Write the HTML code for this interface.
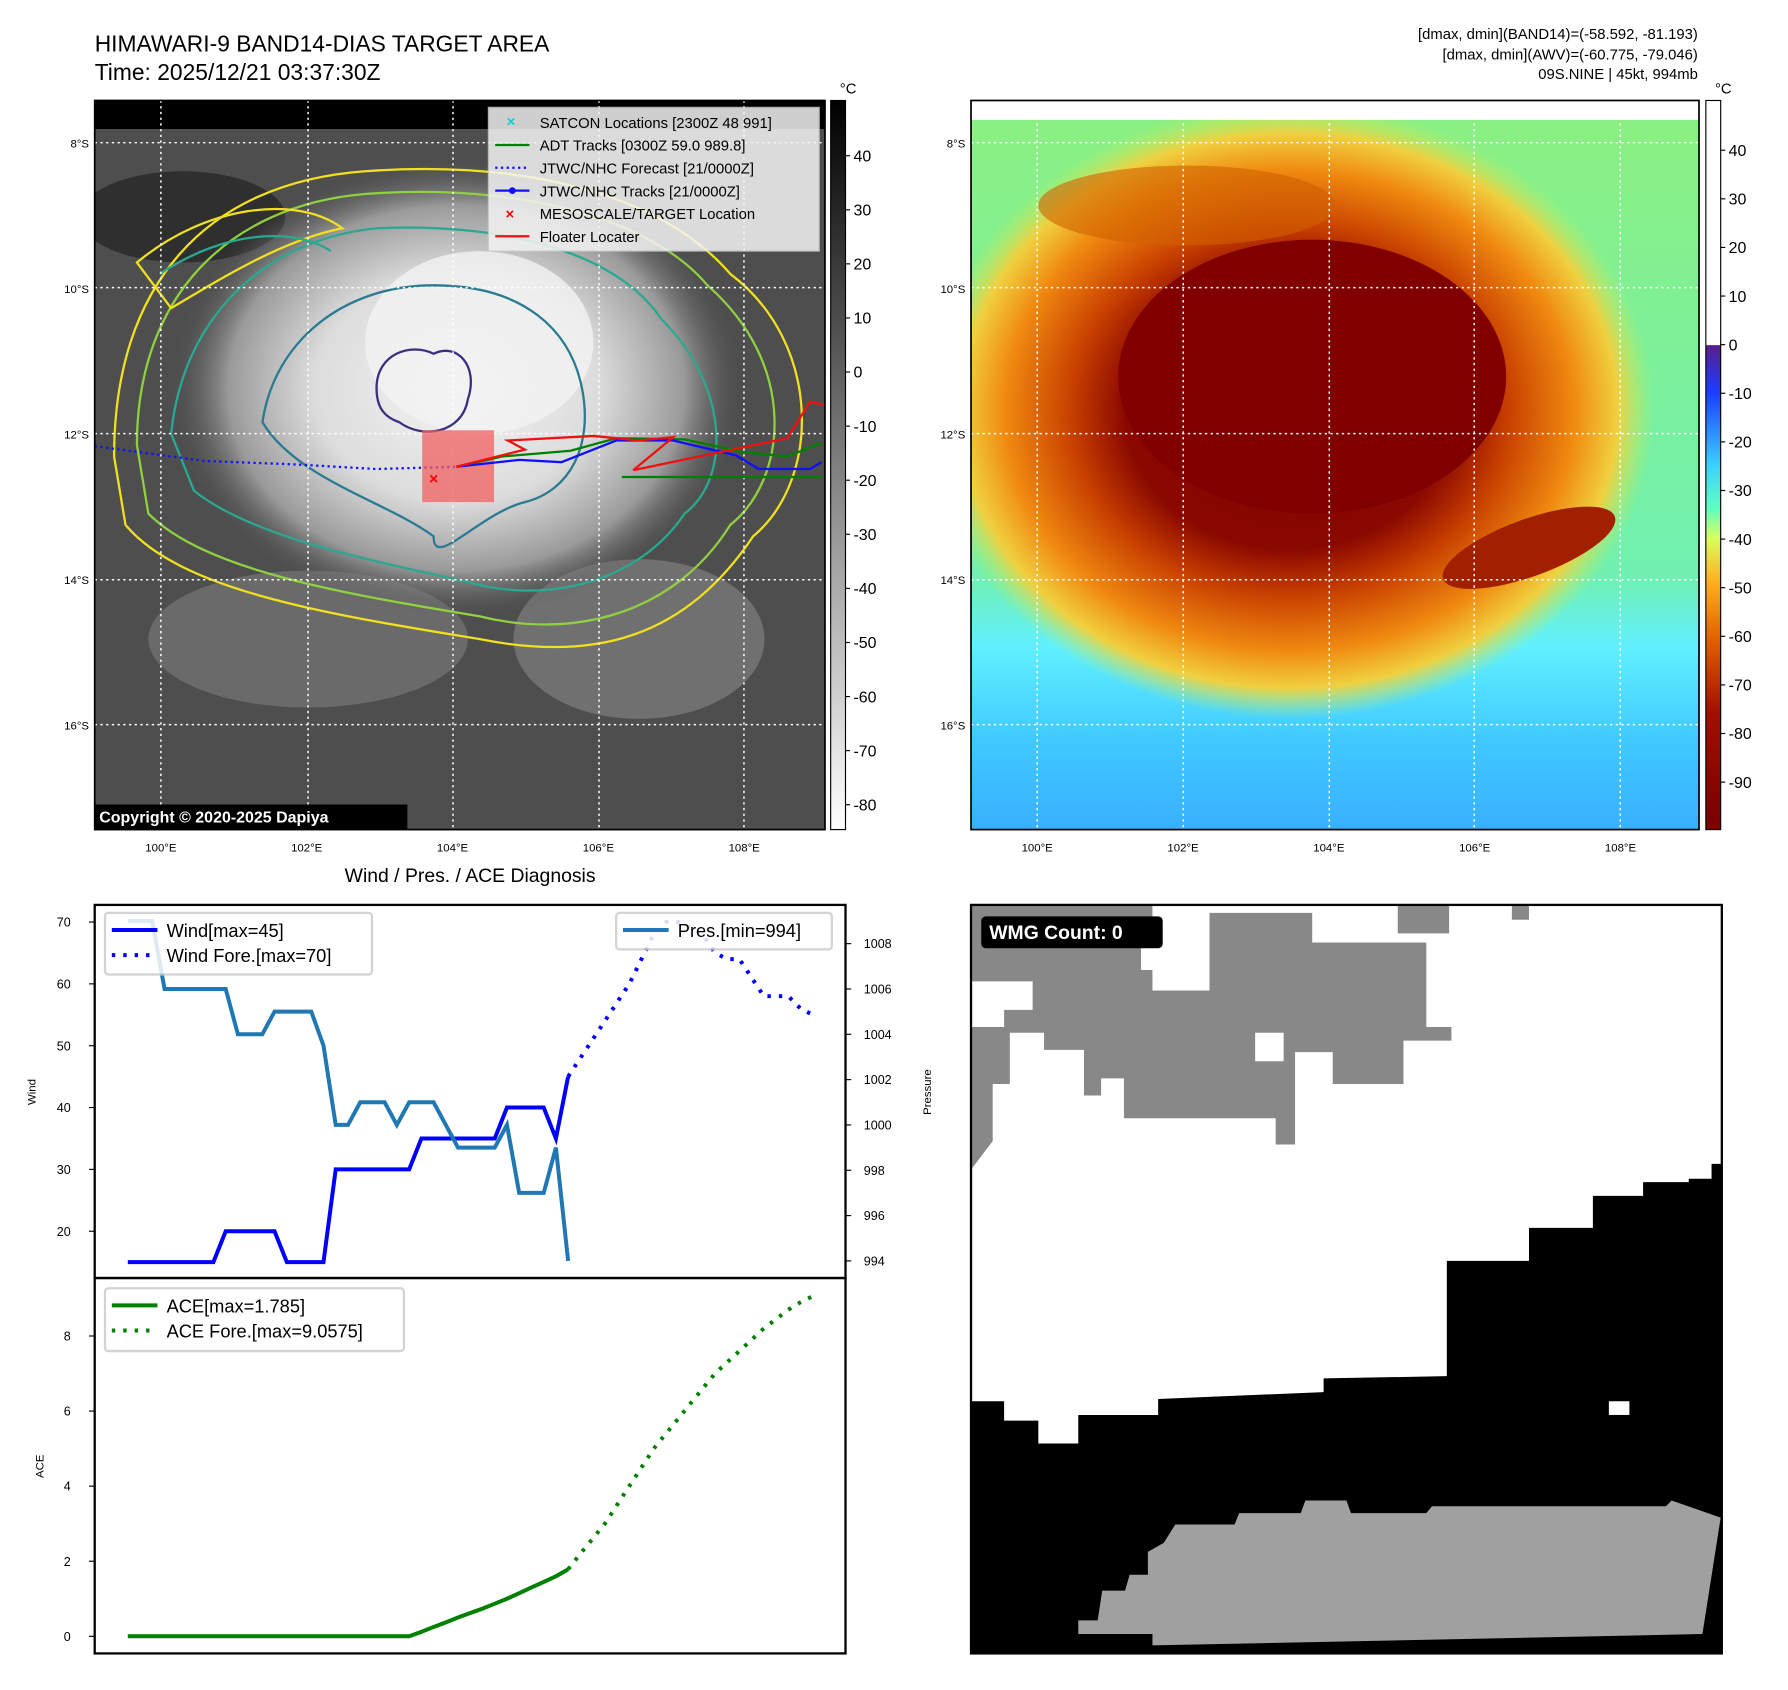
<!DOCTYPE html>
<html><head><meta charset="utf-8"><style>
html,body{margin:0;padding:0;background:#fff}
svg{display:block}
text{font-family:"Liberation Sans","DejaVu Sans",sans-serif}
</style></head><body>
<svg id="root" width="1788" height="1690" viewBox="0 0 1567 1481" xmlns="http://www.w3.org/2000/svg">
<defs>
<clipPath id="clipL"><rect x="83" y="88" width="640" height="639"/></clipPath>
<clipPath id="clipR"><rect x="851" y="88" width="638" height="639"/></clipPath>
<linearGradient id="gcb" x1="0" y1="0" x2="0" y2="1"><stop offset="0" stop-color="#000"/><stop offset="1" stop-color="#fff"/></linearGradient>
<linearGradient id="ccb" x1="0" y1="0" x2="0" y2="1">
<stop offset="0" stop-color="#fff"/><stop offset="0.335" stop-color="#fff"/><stop offset="0.336" stop-color="#5a1e8c"/>
<stop offset="0.4" stop-color="#1a3cff"/><stop offset="0.5" stop-color="#3cd0ff"/><stop offset="0.56" stop-color="#60ffc0"/>
<stop offset="0.6" stop-color="#d8ff60"/><stop offset="0.66" stop-color="#ffb020"/><stop offset="0.74" stop-color="#e06000"/>
<stop offset="0.84" stop-color="#a01000"/><stop offset="1" stop-color="#780000"/></linearGradient>
<radialGradient id="cloud" cx="0.5" cy="0.5" r="0.5"><stop offset="0" stop-color="#f4f4f4"/><stop offset="0.5" stop-color="#dcdcdc"/><stop offset="0.8" stop-color="#9a9a9a"/><stop offset="1" stop-color="#555" stop-opacity="0"/></radialGradient>
<linearGradient id="rbg" x1="0" y1="0" x2="0" y2="1"><stop offset="0" stop-color="#8cf080"/><stop offset="0.65" stop-color="#70f0b0"/><stop offset="0.75" stop-color="#60f0ff"/><stop offset="0.88" stop-color="#40c8ff"/><stop offset="1" stop-color="#38b0ff"/></linearGradient>
<radialGradient id="storm" cx="0.5" cy="0.5" r="0.5"><stop offset="0" stop-color="#800000"/><stop offset="0.45" stop-color="#8a0800"/><stop offset="0.6" stop-color="#c84000"/><stop offset="0.78" stop-color="#f08a10"/><stop offset="0.9" stop-color="#f0d040"/><stop offset="1" stop-color="#c0f060" stop-opacity="0"/></radialGradient>
</defs>

<text x="83" y="45" font-size="20">HIMAWARI-9 BAND14-DIAS TARGET AREA</text>
<text x="83" y="70" font-size="20">Time: 2025/12/21 03:37:30Z</text>
<g font-size="13" text-anchor="end">
<text x="1488" y="34">[dmax, dmin](BAND14)=(-58.592, -81.193)</text>
<text x="1488" y="52">[dmax, dmin](AWV)=(-60.775, -79.046)</text>
<text x="1488" y="69">09S.NINE | 45kt, 994mb</text>
</g>

<!-- left map -->
<g>
<g clip-path="url(#clipL)">
<rect x="83" y="88" width="640" height="639" fill="#4e4e4e"/>
<rect x="83" y="88" width="640" height="25" fill="#000"/>
<ellipse cx="160" cy="190" rx="90" ry="40" fill="#2f2f2f"/>
<ellipse cx="270" cy="560" rx="140" ry="60" fill="#6a6a6a"/>
<ellipse cx="560" cy="560" rx="110" ry="70" fill="#707070"/>
<ellipse cx="400" cy="340" rx="250" ry="200" fill="url(#cloud)"/>
<ellipse cx="420" cy="300" rx="100" ry="80" fill="#f2f2f2" opacity="0.8"/>
<g fill="none" stroke-width="2">
<path d="M100,400 C100,250 180,160 320,150 C460,140 580,170 640,240 C720,300 720,420 660,470 C600,560 520,580 420,560 C300,540 160,520 110,460 Z" stroke="#f0e020"/>
<path d="M120,390 C120,260 200,180 320,170 C450,160 570,190 620,250 C700,320 690,420 640,460 C590,540 500,560 420,540 C300,520 180,500 130,450 Z" stroke="#90d040"/>
<path d="M150,380 C160,280 230,210 330,200 C440,195 540,220 580,280 C640,340 640,420 600,450 C560,510 480,530 410,510 C320,490 220,470 170,430 Z" stroke="#2aa890"/>
<path d="M230,370 C240,300 300,250 380,250 C460,250 500,290 510,340 C520,390 500,430 460,440 C420,450 380,500 380,470 C340,440 260,420 230,370 Z" stroke="#2a7a90"/>
<path d="M330,340 C330,310 360,300 380,310 C400,300 420,320 410,350 C405,380 370,385 350,370 C335,365 330,355 330,340 Z" stroke="#3a3080"/>
<path d="M120,230 C180,180 260,170 300,200 C250,210 200,240 150,270 Z" stroke="#f0e020"/>
<path d="M140,240 C200,200 260,200 290,220" stroke="#2aa890"/>
</g>
<g fill="none" stroke="#fff" stroke-width="1.3" stroke-dasharray="2,3">
<line x1="141" y1="88" x2="141" y2="727"/><line x1="270" y1="88" x2="270" y2="727"/><line x1="397" y1="88" x2="397" y2="727"/><line x1="525" y1="88" x2="525" y2="727"/><line x1="652" y1="88" x2="652" y2="727"/>
<line x1="83" y1="125" x2="723" y2="125"/><line x1="83" y1="252" x2="723" y2="252"/><line x1="83" y1="380" x2="723" y2="380"/><line x1="83" y1="508" x2="723" y2="508"/><line x1="83" y1="635" x2="723" y2="635"/>
</g>
<path d="M83,391 L180,404 L260,407 L330,411 L400,409" fill="none" stroke="#1010ff" stroke-width="2" stroke-dasharray="2,3"/>
<rect x="370" y="377" width="63" height="63" fill="#f06060" opacity="0.75"/>
<path d="M400,409 L440,400 L500,395 L540,384 L600,385 L650,396 L690,400 L720,388" fill="none" stroke="#008000" stroke-width="2"/>
<path d="M545,418 L720,418" fill="none" stroke="#008000" stroke-width="2"/>
<path d="M400,409 L455,403 L492,405 L540,386 L590,386 L645,399 L665,411 L710,411 L720,405" fill="none" stroke="#1010ff" stroke-width="2"/>
<path d="M400,409 L460,394 L445,386 L520,382 L560,386 L590,383 L555,412 L690,384 L710,352 L723,355" fill="none" stroke="#f01010" stroke-width="2"/>
</g>
<text x="376" y="424" font-size="14" fill="#f00" font-weight="bold">×</text>
<rect x="83" y="705" width="274" height="22" fill="#000"/>
<text x="87" y="721" font-size="14" font-weight="bold" fill="#fff">Copyright © 2020-2025 Dapiya</text>
<g>
<rect x="428" y="94" width="290" height="126" fill="#f4f4f4" opacity="0.85" stroke="#ccc"/>
<g font-size="13">
<text x="444" y="111" fill="#1cc" font-weight="bold">×</text><text x="473" y="112">SATCON Locations [2300Z 48 991]</text>
<line x1="434" y1="127" x2="464" y2="127" stroke="#008000" stroke-width="2"/><text x="473" y="132">ADT Tracks [0300Z 59.0 989.8]</text>
<line x1="434" y1="147" x2="464" y2="147" stroke="#1010ff" stroke-width="2" stroke-dasharray="2,3"/><text x="473" y="152">JTWC/NHC Forecast [21/0000Z]</text>
<line x1="434" y1="167" x2="464" y2="167" stroke="#1010ff" stroke-width="2"/><circle cx="449" cy="167" r="3" fill="#1010ff"/><text x="473" y="172">JTWC/NHC Tracks [21/0000Z]</text>
<text x="443" y="192" fill="#f00" font-weight="bold">×</text><text x="473" y="192">MESOSCALE/TARGET Location</text>
<line x1="434" y1="207" x2="464" y2="207" stroke="#f01010" stroke-width="2"/><text x="473" y="212">Floater Locater</text>
</g></g>
<rect x="83" y="88" width="640" height="639" fill="none" stroke="#000" stroke-width="1.5"/>
</g>
<rect x="728" y="88" width="13" height="639" fill="url(#gcb)" stroke="#000"/>
<text x="736" y="82" font-size="13">°C</text>

<!-- right map -->
<g>
<g clip-path="url(#clipR)">
<rect x="851" y="88" width="638" height="639" fill="url(#rbg)"/>
<ellipse cx="1130" cy="360" rx="320" ry="270" fill="url(#storm)"/>
<ellipse cx="1150" cy="330" rx="170" ry="120" fill="#800000"/>
<ellipse cx="1340" cy="480" rx="80" ry="25" fill="#a02000" transform="rotate(-20 1340 480)"/>
<ellipse cx="1040" cy="180" rx="130" ry="35" fill="#d06000" opacity="0.6"/>
<rect x="851" y="88" width="638" height="17" fill="#fff"/>
<g fill="none" stroke="#fff" stroke-width="1.3" stroke-dasharray="2,3">
<line x1="909" y1="88" x2="909" y2="727"/><line x1="1037" y1="88" x2="1037" y2="727"/><line x1="1165" y1="88" x2="1165" y2="727"/><line x1="1292" y1="88" x2="1292" y2="727"/><line x1="1420" y1="88" x2="1420" y2="727"/>
<line x1="851" y1="125" x2="1489" y2="125"/><line x1="851" y1="252" x2="1489" y2="252"/><line x1="851" y1="380" x2="1489" y2="380"/><line x1="851" y1="508" x2="1489" y2="508"/><line x1="851" y1="635" x2="1489" y2="635"/>
</g>
</g>
<rect x="851" y="88" width="638" height="639" fill="none" stroke="#000" stroke-width="1.5"/>
</g>
<rect x="1495" y="88" width="13" height="639" fill="url(#ccb)" stroke="#000"/>
<text x="1503" y="82" font-size="13">°C</text>

<g id="maplabels" font-size="10"></g>

<!-- chart -->
<text x="412" y="773" font-size="17" text-anchor="middle">Wind / Pres. / ACE Diagnosis</text>
<g id="chart"></g>

<!-- WMG -->
<g>
<rect x="851" y="793" width="658" height="656" fill="#fff"/>
<path d="M851,793 L1010,793 L1010,868 L1060,868 L1060,800 L1150,800 L1150,826 L1250,826 L1250,900 L1272,900 L1272,912 L1230,912 L1230,950 L1168,950 L1168,922 L1135,922 L1135,1003 L1118,1003 L1118,980 L985,980 L985,945 L965,945 L965,960 L950,960 L950,920 L915,920 L915,905 L885,905 L885,950 L870,950 L870,1000 L851,1025 Z" fill="#888"/>
<path d="M851,860 L905,860 L905,885 L880,885 L880,900 L851,900 Z M1100,905 L1125,905 L1125,930 L1100,930 Z M1000,820 L1040,820 L1040,850 L1000,850 Z" fill="#fff"/>
<rect x="1225" y="793" width="45" height="25" fill="#888"/><rect x="1325" y="793" width="15" height="13" fill="#888"/>
<path d="M851,1228 L880,1228 L880,1245 L910,1245 L910,1265 L945,1265 L945,1240 L1015,1240 L1015,1226 L1160,1220 L1160,1208 L1268,1206 L1268,1105 L1340,1105 L1340,1076 L1396,1076 L1396,1048 L1440,1048 L1440,1036 L1480,1036 L1480,1033 L1500,1033 L1500,1020 L1509,1020 L1509,1449 L851,1449 Z" fill="#000"/>
<rect x="1410" y="1228" width="18" height="12" fill="#fff"/>
<path d="M945,1432 L945,1420 L962,1420 L966,1394 L986,1394 L990,1380 L1006,1380 L1006,1360 L1020,1352 L1030,1336 L1082,1336 L1086,1326 L1140,1326 L1144,1315 L1180,1315 L1184,1326 L1250,1326 L1255,1320 L1460,1320 L1465,1315 L1508,1330 L1492,1432 L1010,1442 L1010,1432 Z" fill="#a0a0a0"/>
<rect x="851" y="793" width="658" height="656" fill="none" stroke="#000" stroke-width="2"/>
<rect x="860" y="803" width="159" height="28" rx="4" fill="#000"/>
<text x="867" y="823" font-size="17" font-weight="bold" fill="#fff">WMG Count: 0</text>
</g>
</svg>
<script>
// chart data
const windObs = [15,15,15,15,15,15,15,15,20,20,20,20,20,15,15,15,15,30,30,30,30,30,30,30,35,35,35,35,35,35,35,40,40,40,40,35,45];
const windFcst = [45,48,51,54,57,60,64,68,70,70,69,68,65,64,64,61,58,58,58,56,55];
const presObs = [1009,1009,1009,1006,1006,1006,1006,1006,1006,1004,1004,1004,1005,1005,1005,1005,1003.5,1000,1000,1001,1001,1001,1000,1001,1001,1001,1000,999,999,999,999,1000,997,997,997,999,994];
const aceObs = [0,0,0,0,0,0,0,0,0,0,0,0,0,0,0,0,0,0,0,0,0,0,0,0,0.12,0.25,0.37,0.5,0.62,0.74,0.87,1.0,1.15,1.3,1.45,1.6,1.785];
const aceFcst = [1.785,2.2,2.6,3.0,3.5,4.0,4.5,5.0,5.4,5.8,6.2,6.6,7.0,7.3,7.6,7.9,8.2,8.45,8.7,8.9,9.06];
const windTicks = [20,30,40,50,60,70];
const presTicks = [994,996,998,1000,1002,1004,1006,1008];
const aceTicks = [0,2,4,6,8];
const lonTicks = ["100°E","102°E","104°E","106°E","108°E"];
const latTicks = ["8°S","10°S","12°S","14°S","16°S"];
const irCbTicks = [40,30,20,10,0,-10,-20,-30,-40,-50,-60,-70,-80];
const awvCbTicks = [40,30,20,10,0,-10,-20,-30,-40,-50,-60,-70,-80,-90];

const NS='http://www.w3.org/2000/svg';
function mk(tag, attrs, parent){const e=document.createElementNS(NS,tag);for(const k in attrs)e.setAttribute(k,attrs[k]);parent.appendChild(e);return e;}
const X = i => 112 + i*10.72;
const yW = v => 1079 - (v-20)*5.42;
const yP = v => 1105 - (v-994)*19.86;
const yA = v => 1434 - v*32.9;
const ch = document.getElementById('chart');

const ml=document.getElementById('maplabels');
lonTicks.forEach((t,i)=>{
  [141,909].forEach(x0=>{
    const e=mk('text',{x:x0+i*127.8,y:746,'text-anchor':'middle'},ml);e.textContent=t;
    
    
  });
});
latTicks.forEach((t,i)=>{
  [78,846].forEach(x0=>{
    const e=mk('text',{x:x0,y:129+i*127.6,'text-anchor':'end'},ml);e.textContent=t;
    
    
  });
});
irCbTicks.forEach(v=>{
  const y=326-v*4.74;
  mk('line',{x1:741,y1:y,x2:745,y2:y,stroke:'#000'},ml);
  const e=mk('text',{x:748,y:y+5,'font-size':14},ml);e.textContent=v;
  
  
});
awvCbTicks.forEach(v=>{
  const y=302-v*4.26;
  mk('line',{x1:1508,y1:y,x2:1512,y2:y,stroke:'#000'},ml);
  const e=mk('text',{x:1515,y:y+5,'font-size':14},ml);e.textContent=v;
  
  
});

let f=mk('rect',{x:83,y:793,width:658,height:327,fill:'none',stroke:'#000','stroke-width':2},ch);


f=mk('rect',{x:83,y:1120,width:658,height:329,fill:'none',stroke:'#000','stroke-width':2},ch);



windTicks.forEach(v=>{const y=yW(v);mk('line',{x1:78,y1:y,x2:83,y2:y,stroke:'#000'},ch);
  const e=mk('text',{x:62,y:y+4,'font-size':11,'text-anchor':'end'},ch);e.textContent=v;
  
  });
presTicks.forEach(v=>{const y=yP(v);mk('line',{x1:741,y1:y,x2:746,y2:y,stroke:'#000'},ch);
  const e=mk('text',{x:757,y:y+4,'font-size':11},ch);e.textContent=v;
  
  });
aceTicks.forEach(v=>{const y=yA(v);mk('line',{x1:78,y1:y,x2:83,y2:y,stroke:'#000'},ch);
  const e=mk('text',{x:62,y:y+4,'font-size':11,'text-anchor':'end'},ch);e.textContent=v;
  
  });
let t=mk('text',{x:0,y:0,'font-size':10,transform:'translate(31,957) rotate(-90)','text-anchor':'middle'},ch);t.textContent='Wind';

t=mk('text',{x:0,y:0,'font-size':10,transform:'translate(816,957) rotate(-90)','text-anchor':'middle'},ch);t.textContent='Pressure';

t=mk('text',{x:0,y:0,'font-size':10,transform:'translate(38,1285) rotate(-90)','text-anchor':'middle'},ch);t.textContent='ACE';


function line(arr,off,yf,color,dash,name){
  const d=arr.map((v,i)=>(i?'L':'M')+X(i+off).toFixed(1)+','+yf(v).toFixed(1)).join(' ');
  const p=mk('path',{d:d,fill:'none',stroke:color,'stroke-width':3.5},ch);
  if(dash)p.setAttribute('stroke-dasharray','3,7');
  
  
}
line(windObs,0,yW,'#0000ff',false,'wind-line');
line(windFcst,36,yW,'#0000ff',true,'wind-forecast-line');
line(presObs,0,yP,'#1f77b4',false,'pressure-line');
line(aceObs,0,yA,'#008000',false,'ace-line');
line(aceFcst,36,yA,'#008000',true,'ace-forecast-line');

function legend(x,y,w,h,items,name){
  const g=mk('g',{},ch);
  
  
  mk('rect',{x:x,y:y,width:w,height:h,rx:3,fill:'#fff',opacity:0.85,stroke:'#ccc','stroke-width':2},g);
  items.forEach((it,i)=>{const yy=y+15+i*22;
    const l=mk('line',{x1:x+6,y1:yy,x2:x+46,y2:yy,stroke:it[1],'stroke-width':3.5},g);
    if(it[2])l.setAttribute('stroke-dasharray','3,7');
    const tx=mk('text',{x:x+54,y:yy+6,'font-size':16},g);tx.textContent=it[0];});
}
legend(92,800,234,54,[['Wind[max=45]','#0000ff',0],['Wind Fore.[max=70]','#0000ff',1]],'wind-legend');
legend(540,800,189,32,[['Pres.[min=994]','#1f77b4',0]],'pressure-legend');
legend(92,1129,262,55,[['ACE[max=1.785]','#008000',0],['ACE Fore.[max=9.0575]','#008000',1]],'ace-legend');
</script>
</body></html>
